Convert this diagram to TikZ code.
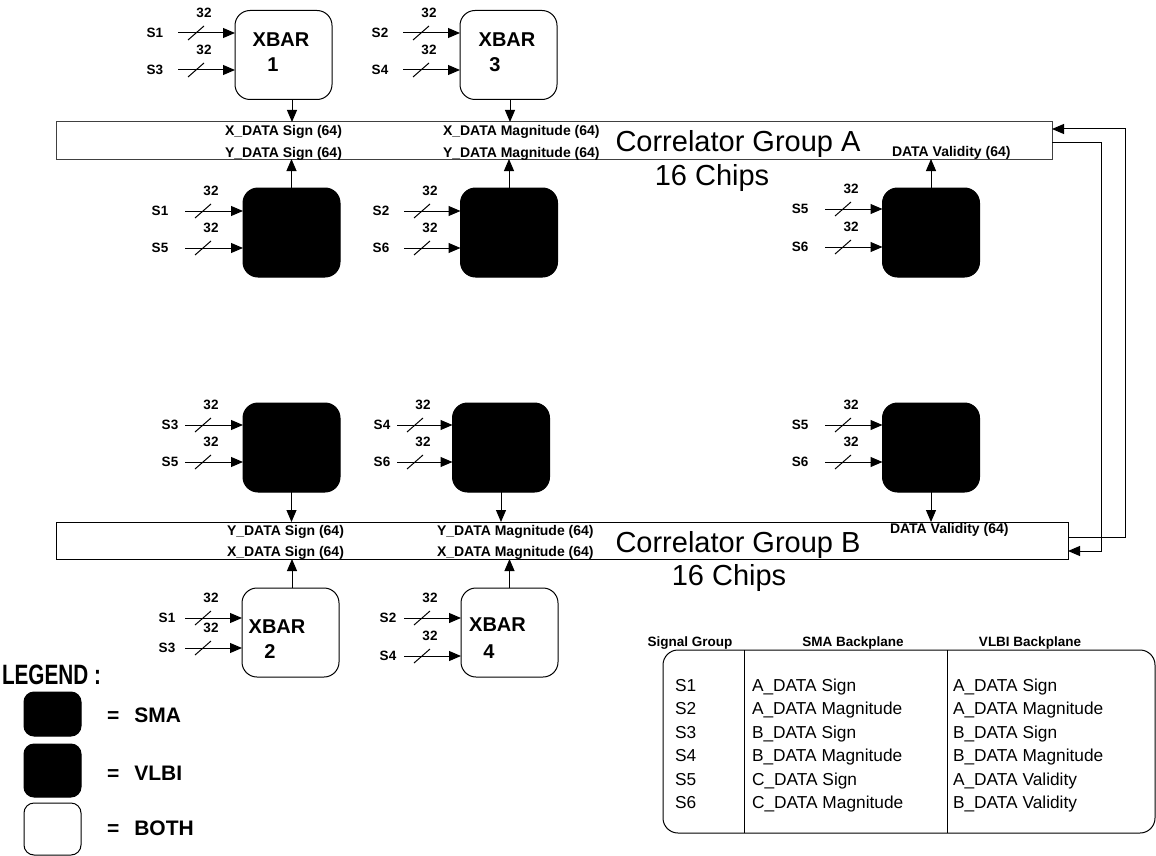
\documentclass[tikz,border=0pt]{standalone}
\usepackage{fontspec}
\setmainfont{Liberation Sans}
\usetikzlibrary{arrows.meta,calc}
\newcommand\fs[1]{\fontsize{#1}{#1}\selectfont}
\tikzset{
  every node/.style={inner sep=0pt, outer sep=0pt},
  sl/.style={font=\bfseries\fs{13.5}},
  lbl/.style={font=\bfseries\fs{14}},
  big/.style={font=\fs{29}},
  xt/.style={font=\bfseries\fs{20}},
  tb/.style={font=\fs{17.3}, anchor=base west},
  th/.style={font=\bfseries\fs{13.5}, anchor=base},
  arr/.style={-{Triangle[length=12pt,width=10pt]}},
  box/.style={draw, line width=1pt, rounded corners=15pt, minimum width=97pt, minimum height=89pt},
  xbar/.style={box, fill=white},
  blk/.style={box, fill=black},
  bar/.style={draw, line width=1pt, minimum height=37pt, anchor=north west},
  lgbox/.style={draw, line width=1pt, rounded corners=10pt, minimum width=57pt},
  lgt/.style={font=\bfseries\fs{21}, anchor=west},
}
\newcommand\insig[6]{%
  \node[sl] (#1l) at (#3,#5) {#2};
  \coordinate (#1s) at (#4,#5);
  \draw[arr] (#1s) -- (#1s -| #6.west);
  \draw ($(#1s)+(10,7)$) -- ++(16,-14);
  \node[sl] (#1n) at ($(#1s)+(26,-20)$) {32};
}
\begin{document}
\begin{tikzpicture}[x=1pt,y=-1pt,line width=1pt]
\path[use as bounding box, fill=white] (0,0) rectangle (1156,856);

% correlator bars
\node[bar, draw=black!75, minimum width=996pt] (A) at (56,122) {};
\node[bar, minimum width=1012pt] (B) at (56,522) {};

\node[big, anchor=base] (ta) at (738,151) {Correlator Group A};
\node[big, anchor=base] (ca) at (712,185) {16 Chips};
\node[big, anchor=base] (tbb) at (738,552) {Correlator Group B};
\node[big, anchor=base] (cb) at (729,585) {16 Chips};

% bar labels
\node[lbl, anchor=west] (a1) at (225,132) {X\_DATA Sign (64)};
\node[lbl, anchor=west] (a2) at (225,154) {Y\_DATA Sign (64)};
\node[lbl, anchor=west] (a3) at (443,132) {X\_DATA Magnitude (64)};
\node[lbl, anchor=west] (a4) at (443,154) {Y\_DATA Magnitude (64)};
\node[lbl, anchor=west] (a5) at (892,153) {DATA Validity (64)};
\node[lbl, anchor=west] (b1l) at (227,532) {Y\_DATA Sign (64)};
\node[lbl, anchor=west] (b2l) at (227,553) {X\_DATA Sign (64)};
\node[lbl, anchor=west] (b3l) at (437,532) {Y\_DATA Magnitude (64)};
\node[lbl, anchor=west] (b4l) at (437,553) {X\_DATA Magnitude (64)};
\node[lbl, anchor=west] (b5l) at (890,530) {DATA Validity (64)};

% xbars
\node[xbar] (x1) at (283.5,55) {};
\node[xbar] (x3) at (508.5,55) {};
\node[xbar] (x2) at (290.5,632.5) {};
\node[xbar] (x4) at (509.5,632.5) {};
\node[xt] (x1a) at (281,40) {XBAR};
\node[xt] (x1b) at (273,65) {1};
\node[xt] (x3a) at (507,40) {XBAR};
\node[xt] (x3b) at (495,65) {3};
\node[xt] (x2a) at (277,627) {XBAR};
\node[xt] (x2b) at (270,652) {2};
\node[xt] (x4a) at (497.5,625) {XBAR};
\node[xt] (x4b) at (489,652) {4};

% black boxes
\node[blk] (k1) at (291.5,232.5) {};
\node[blk] (k2) at (509,232.5) {};
\node[blk] (k3) at (931,232.5) {};
\node[blk] (k4) at (291.5,447.5) {};
\node[blk] (k5) at (501,447.5) {};
\node[blk] (k6) at (931,447.5) {};

% inputs
\insig{i1}{S1}{155}{178}{33}{x1}
\insig{i2}{S3}{155}{178}{70}{x1}
\insig{i3}{S2}{380}{403}{33}{x3}
\insig{i4}{S4}{380}{403}{70}{x3}
\insig{i5}{S1}{160}{185}{211}{k1}
\insig{i6}{S5}{160}{185}{248}{k1}
\insig{i7}{S2}{381}{404}{211}{k2}
\insig{i8}{S6}{381}{404}{248}{k2}
\insig{i9}{S5}{800}{825}{209}{k3}
\insig{i10}{S6}{800}{825}{247}{k3}
\insig{i11}{S3}{170}{185}{425}{k4}
\insig{i12}{S5}{170}{185}{462}{k4}
\insig{i13}{S4}{382}{397}{425}{k5}
\insig{i14}{S6}{382}{397}{462}{k5}
\insig{i15}{S5}{800}{825}{425}{k6}
\insig{i16}{S6}{800}{825}{462}{k6}
\insig{i17}{S1}{167}{185}{618}{x2}
\insig{i18}{S3}{167}{185}{648}{x2}
\insig{i19}{S2}{388}{404}{618}{x4}
\insig{i20}{S4}{388}{404}{656}{x4}

% vertical connections
\draw[arr] ([xshift=8.5pt]x1.south) -- ([xshift=8.5pt]x1.south |- A.north);
\draw[arr] ([xshift=1.5pt]x3.south) -- ([xshift=1.5pt]x3.south |- A.north);
\draw[arr] (k1.north) -- (k1.north |- A.south);
\draw[arr] (k2.north) -- (k2.north |- A.south);
\draw[arr] (k3.north) -- (k3.north |- A.south);
\draw[arr] (k4.south) -- (k4.south |- B.north);
\draw[arr] (k5.south) -- (k5.south |- B.north);
\draw[arr] (k6.south) -- (k6.south |- B.north);
\draw[arr] ([xshift=1.5pt]x2.north) -- ([xshift=1.5pt]x2.north |- B.south);
\draw[arr] (x4.north) -- (x4.north |- B.south);

% loop between groups
\coordinate (p1) at (1125,537);
\coordinate (p2) at (1125,129);
\coordinate (q1) at (1101,143);
\coordinate (q2) at (1101,551);
\draw[arr] (B.east |- p1) -- (p1) -- (p2) -- (A.east |- p2);
\draw[arr] (A.east |- q1) -- (q1) -- (q2) -- (B.east |- q2);

% legend
\node[font=\bfseries\fs{28}, anchor=west] (leg) at (2,675) {\scalebox{0.74}[1]{LEGEND :}};
\node[lgbox, fill=black, minimum height=44pt] (ls) at (52.5,714) {};
\node[lgbox, fill=black, minimum height=53pt] (lv) at (52.5,770.5) {};
\node[lgbox, fill=white, minimum height=52pt] (lb) at (52.5,829) {};
\node[lgt] (lst) at (107,715) {=\hspace{15pt}SMA};
\node[lgt] (lvt) at (107,773) {=\hspace{15pt}VLBI};
\node[lgt] (lbt) at (107,828) {=\hspace{15pt}BOTH};

% table
\node[draw, rounded corners=15pt, minimum width=492pt, minimum height=183pt, anchor=north west] (T) at (663,650) {};
\coordinate (c1) at (744,650);
\coordinate (c2) at (947,650);
\draw (c1) -- (c1 |- T.south);
\draw (c2) -- (c2 |- T.south);
\node[th] (h1) at (690,646) {Signal Group};
\node[th] (h2) at (853,646) {SMA Backplane};
\node[th] (h3) at (1030,646) {VLBI Backplane};

\node[tb] (r1a) at (675,691) {S1};
\node[tb] (r1b) at (752,691) {A\_DATA Sign};
\node[tb] (r1c) at (953,691) {A\_DATA Sign};
\node[tb] (r2a) at (675,714.5) {S2};
\node[tb] (r2b) at (752,714.5) {A\_DATA Magnitude};
\node[tb] (r2c) at (953,714.5) {A\_DATA Magnitude};
\node[tb] (r3a) at (675,738) {S3};
\node[tb] (r3b) at (752,738) {B\_DATA Sign};
\node[tb] (r3c) at (953,738) {B\_DATA Sign};
\node[tb] (r4a) at (675,761.5) {S4};
\node[tb] (r4b) at (752,761.5) {B\_DATA Magnitude};
\node[tb] (r4c) at (953,761.5) {B\_DATA Magnitude};
\node[tb] (r5a) at (675,785) {S5};
\node[tb] (r5b) at (752,785) {C\_DATA Sign};
\node[tb] (r5c) at (953,785) {A\_DATA Validity};
\node[tb] (r6a) at (675,808.5) {S6};
\node[tb] (r6b) at (752,808.5) {C\_DATA Magnitude};
\node[tb] (r6c) at (953,808.5) {B\_DATA Validity};
\end{tikzpicture}
\end{document}
